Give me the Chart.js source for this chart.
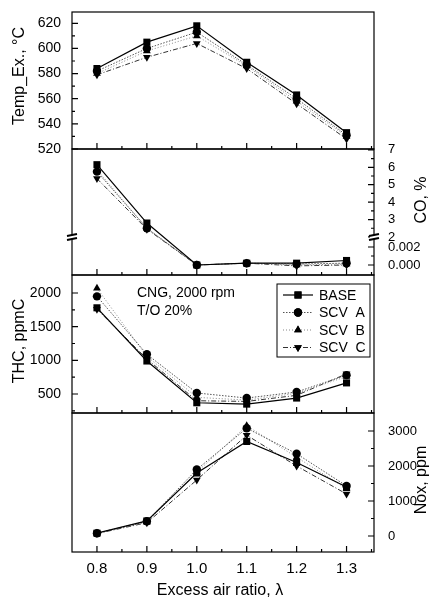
<!DOCTYPE html>
<html lang="en">
<head>
<meta charset="UTF-8">
<title>Excess air ratio</title>
<script src="https://cdn.jsdelivr.net/npm/chart.js"></script>
<style>
  body { margin: 0; background: #fff; width: 430px; height: 599px; position: relative; overflow: hidden;
         font-family: "Liberation Sans", Arial, sans-serif; }
  canvas { position: absolute; left: 0; }
  .lbl { position: absolute; font-size: 16px; color: #000; white-space: nowrap; }
  .rot { transform: translate(-50%, -50%) rotate(-90deg); }
  .ann { position: absolute; font-size: 14px; color: #000; line-height: 18px; }
</style>
</head>
<body>
<canvas id="cTemp" width="430" height="157" style="top:2px"></canvas>
<canvas id="cCO" width="430" height="146" style="top:139px"></canvas>
<canvas id="cTHC" width="430" height="158" style="top:265px"></canvas>
<canvas id="cNox" width="430" height="196" style="top:403px"></canvas>

<div class="lbl rot" style="left:19px; top:76px;">Temp_Ex., °C</div>
<div class="lbl rot" style="left:421px; top:200px;">CO, %</div>
<div class="lbl rot" style="left:19px; top:341px;">THC, ppmC</div>
<div class="lbl rot" style="left:421px; top:480px;">Nox, ppm</div>
<div class="lbl" style="left:220px; top:590px; transform: translate(-50%, -50%);">Excess air ratio, λ</div>
<div class="ann" style="left:137px; top:283px;">CNG, 2000 rpm<br>T/O 20%</div>

<script>
// x values (excess air ratio)
const LAMBDA = [0.8, 0.9, 1.0, 1.1, 1.2, 1.3];
const SERIES = ['BASE', 'SCV  A', 'SCV  B', 'SCV  C'];

// exhaust temperature, °C
const TEMP_BASE = [584, 605, 618, 589, 563, 533];
const TEMP_A    = [582, 600, 613, 587, 560, 531];
const TEMP_B    = [580, 598, 610, 586, 558, 530];
const TEMP_C    = [579, 593, 604, 584, 556, 528];

// CO, %
const CO_BASE = [6.15, 2.8, 0.0000, 0.0002, 0.0002, 0.0005];
const CO_A    = [5.75, 2.5, 0.0000, 0.0002, 0.0001, 0.0002];
const CO_B    = [5.85, 2.5, 0.0000, 0.0002, 0.0000, 0.0001];
const CO_C    = [5.35, 2.45, 0.0000, 0.0002, -0.0001, 0.0000];

// THC, ppmC
const THC_BASE = [1780, 990, 370, 350, 440, 665];
const THC_A    = [1950, 1090, 515, 440, 530, 780];
const THC_B    = [2070, 1060, 450, 410, 510, 760];
const THC_C    = [1760, 1020, 400, 390, 480, 800];

// NOx, ppm
const NOX_BASE = [80, 430, 1800, 2700, 2100, 1400];
const NOX_A    = [80, 420, 1900, 3080, 2350, 1430];
const NOX_B    = [80, 400, 1820, 3150, 2250, 1350];
const NOX_C    = [70, 380, 1600, 2880, 2000, 1200];

// tick labels
const X_TICKS = [0.8, 0.9, 1.0, 1.1, 1.2, 1.3];
const TEMP_TICKS = [520, 540, 560, 580, 600, 620];
const CO_TICKS_HIGH = [2, 3, 4, 5, 6, 7];
const CO_TICKS_LOW = [0, 0.002];
const THC_TICKS = [500, 1000, 1500, 2000];
const NOX_TICKS = [0, 1000, 2000, 3000];

// broken CO axis: 0..0.003 below the break, 2..7 above it
function coPos(v) {
  return v >= 1 ? 1.556 + (v - 2) * 0.967 : v / 0.002;
}

Chart.defaults.font.family = '"Liberation Sans", Arial, sans-serif';
Chart.defaults.font.size = 14;
Chart.defaults.color = '#000';

const STYLES = [
  { pointStyle: 'rect', rotation: 0, radius: 5, borderColor: '#000', borderDash: [], borderWidth: 1.2 },
  { pointStyle: 'circle', rotation: 0, radius: 4.2, borderColor: '#555', borderDash: [1.5, 1.5], borderWidth: 1 },
  { pointStyle: 'triangle', rotation: 0, radius: 4.5, borderColor: '#888', borderDash: [1, 2], borderWidth: 1 },
  { pointStyle: 'triangle', rotation: 180, radius: 4.5, borderColor: '#333', borderDash: [5, 2, 1, 2], borderWidth: 1 }
];

function makeSets(arrays, map) {
  return arrays.map((arr, i) => ({
    label: SERIES[i],
    data: LAMBDA.map((x, j) => ({ x: x, y: map ? map(arr[j]) : arr[j] })),
    borderColor: STYLES[i].borderColor,
    borderDash: STYLES[i].borderDash,
    borderWidth: STYLES[i].borderWidth,
    pointStyle: STYLES[i].pointStyle,
    rotation: STYLES[i].rotation,
    pointRadius: STYLES[i].radius,
    pointBackgroundColor: '#000',
    pointBorderColor: '#000',
    pointBorderWidth: 0,
    tension: 0
  }));
}

// frame with inward tick marks and optional axis break marks
const frame = {
  id: 'frame',
  afterDraw(chart, args, o) {
    const { ctx, chartArea: a } = chart;
    const y = chart.scales.y, x = chart.scales.x;
    ctx.save();
    ctx.strokeStyle = '#000';
    ctx.lineWidth = 1.2;
    ctx.strokeRect(a.left, a.top, a.right - a.left, a.bottom - a.top);
    const edge = o.side === 'right' ? a.right : a.left;
    const dir = o.side === 'right' ? -1 : 1;
    ctx.beginPath();
    (o.major || []).forEach(v => { const p = y.getPixelForValue(v); ctx.moveTo(edge, p); ctx.lineTo(edge + dir * 6, p); });
    (o.minor || []).forEach(v => { const p = y.getPixelForValue(v); ctx.moveTo(edge, p); ctx.lineTo(edge + dir * 3, p); });
    X_TICKS.forEach(v => { const p = x.getPixelForValue(v); ctx.moveTo(p, a.bottom); ctx.lineTo(p, a.bottom - 6); });
    [0.85, 0.95, 1.05, 1.15, 1.25, 1.35].forEach(v => { const p = x.getPixelForValue(v); ctx.moveTo(p, a.bottom); ctx.lineTo(p, a.bottom - 3); });
    ctx.stroke();
    if (o.breakAt !== undefined) {
      const p = y.getPixelForValue(o.breakAt);
      [a.left, a.right].forEach(e => {
        ctx.fillStyle = '#fff';
        ctx.fillRect(e - 4, p - 2, 8, 4);
        ctx.lineWidth = 2;
        ctx.beginPath();
        ctx.moveTo(e - 5, p - 1); ctx.lineTo(e + 5, p - 3);
        ctx.moveTo(e - 5, p + 3); ctx.lineTo(e + 5, p + 1);
        ctx.stroke();
      });
    }
    ctx.restore();
  }
};

// legend box inside the THC panel
const legendBox = {
  id: 'legendBox',
  afterDraw(chart, args, o) {
    if (!o.show) return;
    const { ctx, chartArea: a } = chart;
    const bx = a.right - 97, by = a.top + 9, bw = 93, bh = 73;
    ctx.save();
    ctx.strokeStyle = '#000';
    ctx.lineWidth = 1;
    ctx.strokeRect(bx, by, bw, bh);
    ctx.font = '14px "Liberation Sans", Arial, sans-serif';
    ctx.textBaseline = 'middle';
    ctx.fillStyle = '#000';
    chart.data.datasets.forEach((ds, i) => {
      const cy = by + 11 + i * 17.5;
      ctx.strokeStyle = ds.borderColor;
      ctx.lineWidth = ds.borderWidth;
      ctx.setLineDash(ds.borderDash);
      ctx.beginPath();
      ctx.moveTo(bx + 6, cy); ctx.lineTo(bx + 36, cy);
      ctx.stroke();
      ctx.setLineDash([]);
      Chart.helpers.drawPoint(ctx, { pointStyle: ds.pointStyle, rotation: ds.rotation, radius: ds.pointRadius, borderWidth: 0 }, bx + 21, cy);
      ctx.fillStyle = '#000';
      ctx.fill();
      ctx.fillText(ds.label, bx + 42, cy + 1);
    });
    ctx.restore();
  }
};

function yAxis(pos, min, max, ticks, labels, show) {
  return {
    type: 'linear', position: pos, min: min, max: max,
    grid: { display: false }, border: { display: false },
    afterBuildTicks: s => { s.ticks = ticks.map(v => ({ value: v })); },
    afterFit: s => {
      s.width = pos === 'left' ? 72 : 56;
      s.paddingTop = 0; s.paddingBottom = 0;
    },
    ticks: {
      display: show, autoSkip: false, padding: pos === 'left' ? 3 : 6,
      font: { size: pos === 'left' ? 14 : 13 },
      callback: (v, i) => labels[i]
    }
  };
}

function xAxis(show) {
  return {
    type: 'linear', min: 0.75, max: 1.355, display: show,
    grid: { display: false, drawTicks: false }, border: { display: false },
    afterBuildTicks: s => { s.ticks = X_TICKS.map(v => ({ value: v })); },
    afterFit: s => { s.height = show ? 47 : 0; s.paddingLeft = 0; s.paddingRight = 0; },
    ticks: { padding: 8, autoSkip: false, font: { size: 15 }, callback: v => v.toFixed(1) }
  };
}

function panel(id, sets, yl, yr, fr, bottom, legend) {
  new Chart(document.getElementById(id), {
    type: 'line',
    data: { datasets: sets },
    options: {
      responsive: false, animation: false,
      layout: { padding: { top: 10, bottom: bottom ? 0 : 10, left: 0, right: 0 } },
      scales: { x: xAxis(bottom), y: yl, y2: yr },
      plugins: { legend: { display: false }, tooltip: { enabled: false }, frame: fr, legendBox: { show: !!legend } }
    },
    plugins: [frame, legendBox]
  });
}

const TL = TEMP_TICKS.map(String);
panel('cTemp', makeSets([TEMP_BASE, TEMP_A, TEMP_B, TEMP_C]),
  yAxis('left', 520, 629, TEMP_TICKS, TL, true),
  yAxis('right', 520, 629, TEMP_TICKS, TL, false),
  { side: 'left', major: TEMP_TICKS, minor: [530, 550, 570, 590, 610] }, false, false);

const CO_POS = CO_TICKS_LOW.concat(CO_TICKS_HIGH).map(coPos);
const CO_LBL = CO_TICKS_LOW.map(v => v.toFixed(3)).concat(CO_TICKS_HIGH.map(String));
panel('cCO', makeSets([CO_BASE, CO_A, CO_B, CO_C], coPos),
  yAxis('left', -0.556, 6.44, CO_POS, CO_LBL, false),
  yAxis('right', -0.556, 6.44, CO_POS, CO_LBL, true),
  { side: 'right', major: CO_POS, minor: [0.001, 2.5, 3.5, 4.5, 5.5, 6.5].map(coPos), breakAt: coPos(2) }, false, false);

const HL = THC_TICKS.map(String);
panel('cTHC', makeSets([THC_BASE, THC_A, THC_B, THC_C]),
  yAxis('left', 218, 2267, THC_TICKS, HL, true),
  yAxis('right', 218, 2267, THC_TICKS, HL, false),
  { side: 'left', major: THC_TICKS, minor: [250, 750, 1250, 1750] }, false, true);

const NL = NOX_TICKS.map(String);
panel('cNox', makeSets([NOX_BASE, NOX_A, NOX_B, NOX_C]),
  yAxis('left', -457, 3514, NOX_TICKS, NL, false),
  yAxis('right', -457, 3514, NOX_TICKS, NL, true),
  { side: 'right', major: NOX_TICKS, minor: [500, 1500, 2500] }, true, false);
</script>
</body>
</html>
